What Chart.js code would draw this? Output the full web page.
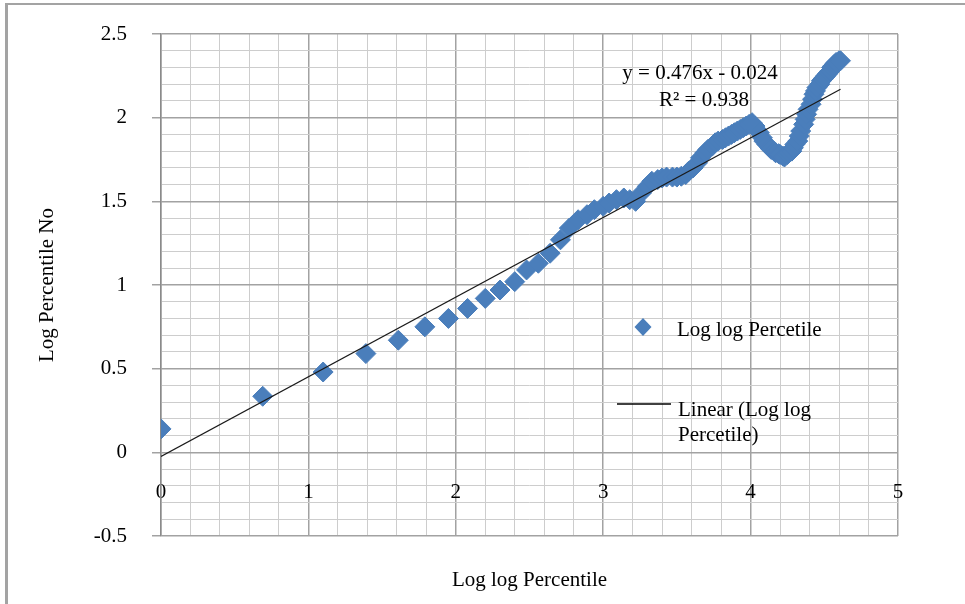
<!DOCTYPE html>
<html>
<head>
<meta charset="utf-8">
<script src="https://cdn.jsdelivr.net/npm/chart.js@4.4.1/dist/chart.umd.min.js"></script>
<style>
  html, body { margin: 0; padding: 0; background: #fff; }
  #wrap { position: relative; width: 965px; height: 604px; }
  #chart { display: block; }
  #frame { position: absolute; left: 5px; top: 3px; right: 0; bottom: 0; border-left: 3px solid #a3a3a3; border-top: 2px solid #a3a3a3; pointer-events: none; }
</style>
</head>
<body>
<div id="wrap">
  <canvas id="chart" width="965" height="604"></canvas>
  <div id="frame"></div>
</div>
<script>
// Log log Percentile (x) against Log Percentile No (y)
const xLogValues = [
  0.00, 0.69, 1.10, 1.39, 1.61, 1.79, 1.95, 2.08, 2.20, 2.30,
  2.40, 2.48, 2.56, 2.64, 2.71, 2.77, 2.83, 2.89, 2.94, 3.00,
  3.04, 3.09, 3.14, 3.18, 3.22, 3.26, 3.30, 3.33, 3.37, 3.40,
  3.43, 3.47, 3.50, 3.53, 3.56, 3.58, 3.61, 3.64, 3.66, 3.69,
  3.71, 3.74, 3.76, 3.78, 3.81, 3.83, 3.85, 3.87, 3.89, 3.91,
  3.93, 3.95, 3.97, 3.99, 4.01, 4.03, 4.04, 4.06, 4.08, 4.09,
  4.11, 4.13, 4.14, 4.16, 4.17, 4.19, 4.20, 4.22, 4.23, 4.25,
  4.26, 4.28, 4.29, 4.30, 4.32, 4.33, 4.34, 4.36, 4.37, 4.38,
  4.39, 4.41, 4.42, 4.43, 4.44, 4.45, 4.47, 4.48, 4.49, 4.50,
  4.51, 4.52, 4.53, 4.54, 4.55, 4.56, 4.57, 4.58, 4.60, 4.61
];
const yLogValues = [
  0.14, 0.335, 0.48, 0.59, 0.67, 0.75, 0.80, 0.86, 0.92, 0.97,
  1.02, 1.09, 1.13, 1.19, 1.27, 1.34, 1.39, 1.42, 1.45, 1.47,
  1.49, 1.51, 1.52, 1.51, 1.50, 1.55, 1.59, 1.62, 1.63, 1.64,
  1.645, 1.645, 1.645, 1.65, 1.66, 1.68, 1.70, 1.73, 1.76, 1.79,
  1.81, 1.83, 1.85, 1.86, 1.87, 1.88, 1.89, 1.90, 1.91, 1.92,
  1.93, 1.94, 1.95, 1.96, 1.97, 1.95, 1.93, 1.91, 1.88, 1.86,
  1.84, 1.82, 1.81, 1.80, 1.79, 1.785, 1.78, 1.77, 1.765, 1.78,
  1.79, 1.80, 1.82, 1.84, 1.86, 1.89, 1.92, 1.96, 1.99, 2.02,
  2.05, 2.08, 2.11, 2.14, 2.16, 2.18, 2.20, 2.22, 2.23, 2.24,
  2.25, 2.26, 2.27, 2.28, 2.30, 2.31, 2.32, 2.33, 2.34, 2.34
];

// trend line end points (y = 0.476x - 0.024)
const trendX = [0, 4.61];
const trendY = [-0.024, 2.170];

// axis ranges and tick steps
const xRange = [0, 5];
const yRange = [-0.5, 2.5];
const xMajorStep = 1, xMinorStep = 0.2;
const yMajorStep = 0.5, yMinorStep = 0.1;

const seriesLabel = 'Log log Percetile';
const trendLabel = ['Linear (Log log', 'Percetile)'];
const equationText = 'y = 0.476x - 0.024';
const r2Text = 'R\u00B2 = 0.938';

const FONT = '"Liberation Serif", "Times New Roman", serif';
const MARKER = '#4a7ebb';
const GRID_MAJOR = '#a2a2a2';
const GRID_MINOR = '#cdcdcd';

function isMajor(v, step) {
  const r = v / step;
  return Math.abs(r - Math.round(r)) < 1e-6;
}

// equation and legend drawn inside the plot, like the Excel original
const overlayPlugin = {
  id: 'overlay',
  afterDatasetsDraw(chart) {
    const ctx = chart.ctx;
    ctx.save();
    ctx.fillStyle = '#000';
    ctx.font = '21px ' + FONT;
    ctx.textBaseline = 'middle';

    ctx.textAlign = 'center';
    ctx.fillText(equationText, 700, 73);
    ctx.fillText(r2Text, 704, 100);

    // legend: marker entry
    ctx.fillStyle = MARKER;
    ctx.beginPath();
    ctx.moveTo(643, 318);
    ctx.lineTo(651.5, 327);
    ctx.lineTo(643, 336);
    ctx.lineTo(634.5, 327);
    ctx.closePath();
    ctx.fill();

    ctx.fillStyle = '#000';
    ctx.textAlign = 'left';
    ctx.fillText(seriesLabel, 677, 330);

    // legend: trend line entry
    ctx.strokeStyle = '#000';
    ctx.lineWidth = 1.5;
    ctx.beginPath();
    ctx.moveTo(617, 404);
    ctx.lineTo(671, 404);
    ctx.stroke();
    ctx.fillText(trendLabel[0], 678, 410);
    ctx.fillText(trendLabel[1], 678, 435);
    ctx.restore();
  }
};

const points = xLogValues.map((x, i) => ({ x: x, y: yLogValues[i] }));
const trend = trendX.map((x, i) => ({ x: x, y: trendY[i] }));

new Chart(document.getElementById('chart'), {
  type: 'scatter',
  data: {
    datasets: [{
      label: seriesLabel,
      data: points,
      order: 1,
      pointStyle: 'rectRot',
      pointRadius: 10,
      pointHoverRadius: 10,
      backgroundColor: MARKER,
      borderColor: MARKER,
      borderWidth: 1
    }, {
      label: trendLabel.join(' '),
      type: 'line',
      data: trend,
      order: 0,
      showLine: true,
      pointRadius: 0,
      borderColor: '#1a1a1a',
      borderWidth: 1.2,
      fill: false
    }]
  },
  options: {
    responsive: false,
    animation: false,
    devicePixelRatio: 1,
    layout: { padding: { left: 0, top: 34, right: 67, bottom: 0 } },
    plugins: {
      legend: { display: false },
      tooltip: { enabled: false }
    },
    scales: {
      x: {
        type: 'linear',
        position: { y: 0 },
        min: xRange[0],
        max: xRange[1],
        afterFit: (s) => { s.height = 0; },
        border: { display: false },
        grid: {
          drawTicks: false,
          color: (c) => isMajor(c.tick.value, xMajorStep) ? GRID_MAJOR : GRID_MINOR,
          lineWidth: (c) => isMajor(c.tick.value, xMajorStep) ? 1.5 : 1
        },
        ticks: {
          stepSize: xMinorStep,
          autoSkip: false,
          maxRotation: 0,
          padding: 28,
          color: '#000',
          font: { family: FONT, size: 21 },
          callback: (v) => isMajor(v, xMajorStep) ? String(Math.round(v)) : ''
        }
      },
      x2: {
        type: 'linear',
        position: 'bottom',
        afterFit: (s) => { s.height = 68; },
        border: { display: false },
        grid: { display: false, drawTicks: false },
        ticks: { display: false },
        title: {
          display: true,
          text: 'Log log Percentile',
          color: '#000',
          font: { family: FONT, size: 21 },
          padding: { top: 0, bottom: 11 }
        }
      },
      y: {
        type: 'linear',
        position: 'left',
        min: yRange[0],
        max: yRange[1],
        // fixed axis width; label padding must not push the plot top down
        afterFit: (s) => { s.width = 161; s.paddingTop = 12; s.paddingBottom = 12; },
        border: { display: true, color: '#8a8a8a', width: 1.5 },
        grid: {
          tickLength: 9,
          color: (c) => isMajor(c.tick.value, yMajorStep) ? GRID_MAJOR : GRID_MINOR,
          tickColor: (c) => isMajor(c.tick.value, yMajorStep) ? GRID_MAJOR : 'rgba(0,0,0,0)',
          lineWidth: (c) => isMajor(c.tick.value, yMajorStep) ? 1.5 : 1
        },
        ticks: {
          stepSize: yMinorStep,
          autoSkip: false,
          padding: 25,
          color: '#000',
          font: { family: FONT, size: 21 },
          callback: (v) => isMajor(v, yMajorStep) ? String(Math.round(v * 10) / 10) : ''
        },
        title: {
          display: true,
          text: 'Log Percentile No',
          color: '#000',
          font: { family: FONT, size: 21 },
          padding: { top: 35, bottom: 0 }
        }
      }
    }
  },
  plugins: [overlayPlugin]
});
</script>
</body>
</html>
